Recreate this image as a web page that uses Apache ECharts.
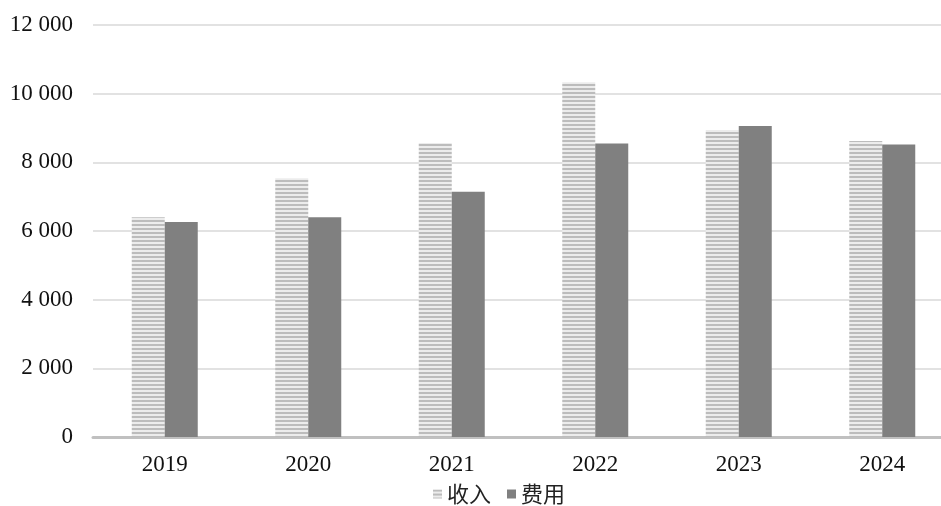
<!DOCTYPE html>
<html><head><meta charset="utf-8">
<script src="https://cdn.jsdelivr.net/npm/echarts@6/dist/echarts.min.js"></script>
<style>html,body{margin:0;padding:0;background:#fff;overflow:hidden;width:941px;height:506px}#c{width:954px;height:506px}</style>
</head><body><div id="c"></div>
<script>
const categories = ['2019','2020','2021','2022','2023','2024'];
const income = [6400, 7540, 8560, 10330, 8940, 8620];
const expense = [6260, 6400, 7140, 8550, 9060, 8520];
const yTicks = {min:0, max:12000, interval:2000};

const cv = document.createElement('canvas');
cv.width = 4; cv.height = 4;
const g = cv.getContext('2d');
g.fillStyle = '#ececec'; g.fillRect(0,0,4,4);
g.fillStyle = '#bcbcbc'; g.fillRect(0,0,4,2);

const chart = echarts.init(document.getElementById('c'));
const font = '"Liberation Serif", "Times New Roman", serif';
chart.setOption({
  animation:false,
  textStyle:{fontFamily:font},
  grid:{left:93, top:25, right:0, bottom:69, containLabel:false},
  legend:{top:478, left:428, icon:'rect', itemWidth:9, itemHeight:9, itemGap:16,
    textStyle:{fontSize:22, color:'#222', fontFamily:'"Noto Sans CJK SC", sans-serif', padding:[0,0,0,0]},
    data:['收入','费用']},
  xAxis:{type:'category', data:categories,
    axisLine:{lineStyle:{color:'#c0c0c0', width:3}},
    axisTick:{show:false},
    axisLabel:{fontSize:23, color:'#111', margin:16, fontFamily:font}},
  yAxis:{type:'value', min:yTicks.min, max:yTicks.max, interval:yTicks.interval,
    axisLine:{show:false}, axisTick:{show:false},
    splitLine:{lineStyle:{color:'#d9d9d9', width:1.5}},
    axisLabel:{fontSize:23, color:'#111', margin:20, fontFamily:font,
      formatter:v=>String(v).replace(/\B(?=(\d{3})+(?!\d))/g,' ')}},
  series:[
    {name:'收入', type:'bar', data:income, barWidth:33, barGap:'0%',
      itemStyle:{color:{image:cv, repeat:'repeat'}}},
    {name:'费用', type:'bar', data:expense, barWidth:33,
      itemStyle:{color:'#808080'}}
  ]
});
</script></body></html>
